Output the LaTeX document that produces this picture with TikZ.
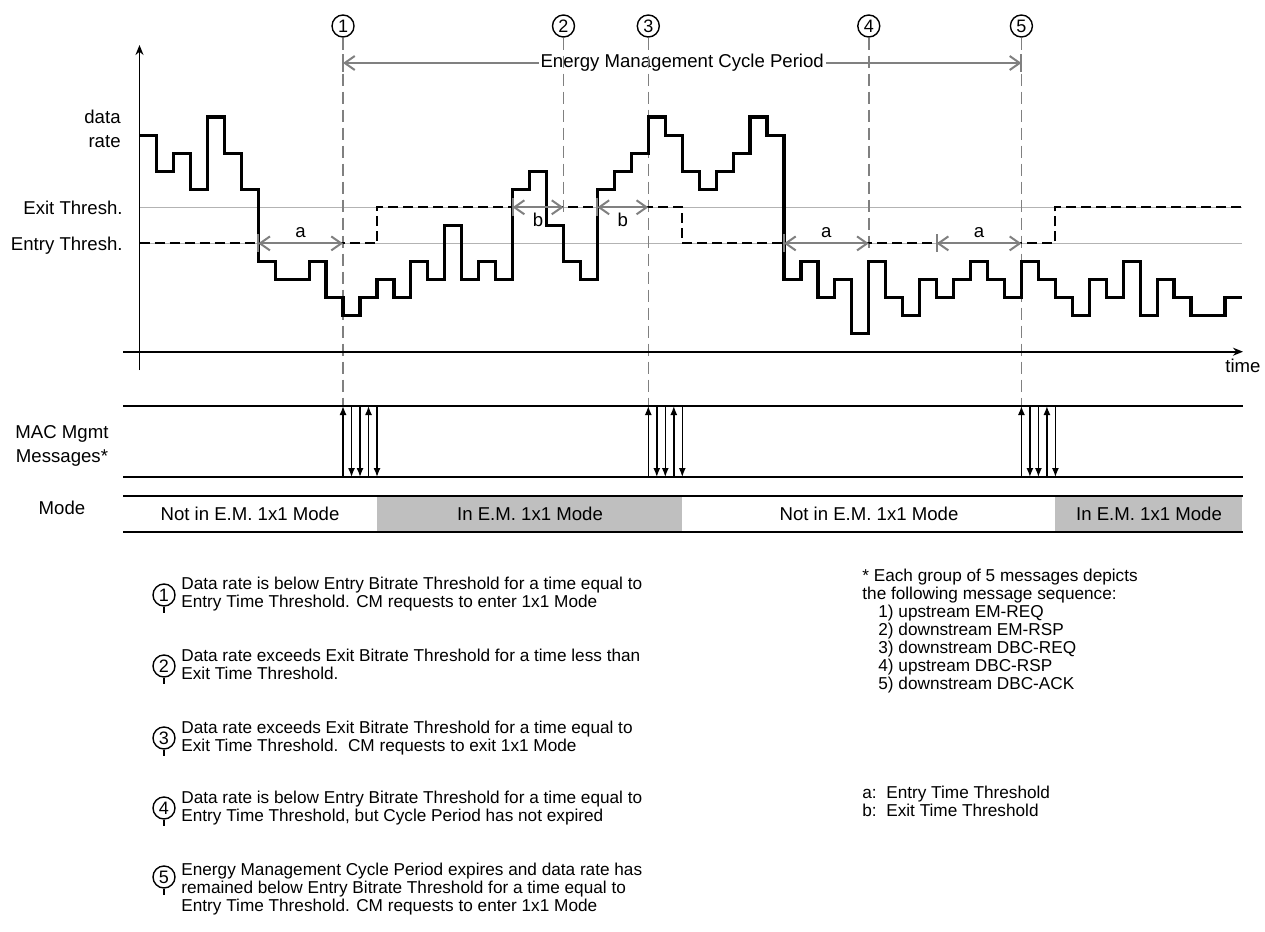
\documentclass[tikz,border=0pt]{standalone}
\usepackage{fontspec}
\setmainfont{Liberation Sans}
\usetikzlibrary{arrows.meta, positioning, calc}
\definecolor{emGray}{HTML}{808080}
\definecolor{thrGray}{HTML}{B3B3B3}
\definecolor{modeGray}{HTML}{BFBFBF}
\newcommand{\tj}[1]{139.5+16.96*(#1)}
\newcommand{\lv}[1]{351.7-18.05*(#1)}
\tikzset{
  dimArrow/.style={<->, >={Straight Barb[length=5pt,width=7pt]}, emGray, line width=1pt},
  dimTick/.style={emGray, line width=1pt},
  guideD/.style={emGray, line width=0.75pt, dash pattern=on 6pt off 3pt},
  thrLine/.style={thrGray, line width=0.75pt},
  thrDash/.style={black, line width=1pt, dash pattern=on 5pt off 2.5pt},
  waveL/.style={black, line width=1.6pt},
  axisL/.style={black, line width=0.9pt},
  bandL/.style={black, line width=1pt},
  msgA/.style={-{Latex[length=4.5pt,width=3.5pt]}, line width=0.7pt},
  numC/.style={circle, draw, line width=0.7pt, minimum size=11pt, inner sep=0pt,
               font=\fontsize{9}{10}\selectfont},
  lbl/.style={inner sep=0pt, font=\fontsize{9.3}{12}\selectfont},
  lgd/.style={inner sep=0pt, align=left, anchor=base west, font=\fontsize{8.6}{9}\selectfont},
}

\begin{document}
\begin{tikzpicture}[x=0.5pt, y=-0.5pt, font=\fontsize{9.3}{12}\selectfont]
    \useasboundingbox (0,0) rectangle (1265,932);
    % mode band and thresholds
    \fill[modeGray] ({\tj{14}},496) rectangle ({\tj{32}},532);
    \fill[modeGray] ({\tj{54}},496) rectangle (1242,532);
    \draw[thrLine] ({\tj{0}},{\lv{8}}) -- (1242,{\lv{8}});
    \draw[thrLine] ({\tj{0}},{\lv{6}}) -- (1242,{\lv{6}});

    \coordinate (ems) at ({\tj{12}},63);
    \coordinate (eme) at ({\tj{52}},63);
    \draw[dimTick] ([yshift=4.5pt]ems) -- ([yshift=-4.5pt]ems);
    \draw[dimTick] ([yshift=4.5pt]eme) -- ([yshift=-4.5pt]eme);
    \draw[dimArrow] (ems) -- node[fill=white, inner sep=1pt, text=black] (emLbl)
      {Energy Management Cycle Period} (eme);

    \foreach \n/\j/\yend in {1/12/406, 2/25/217, 3/30/406, 4/43/253, 5/52/406} {
      \node[numC] (n\n) at ({\tj{\j}},26) {\n};
      \coordinate (g\n) at ({\tj{\j}},\yend);
      \draw[guideD] (n\n) -- (g\n);
    }

    \draw[thrDash] ({\tj{0}},{\lv{6}}) -| ({\tj{14}},{\lv{8}}) -| ({\tj{32}},{\lv{6}})
      -| ({\tj{54}},{\lv{8}}) -- (1242,{\lv{8}});

    \coordinate (yBot) at (139.5,370);
    \coordinate (yTop) at (139.5,45);
    \coordinate (xLeft) at (123,{\lv{0}});
    \coordinate (xRight) at (1243,{\lv{0}});
    \draw[axisL, -{Stealth[length=5pt,width=4pt]}] (yBot) -- (yTop);
    \draw[axisL, -{Stealth[length=5pt,width=4pt]}] (xLeft) -- (xRight);

    % data rate
    \draw[waveL] ({\tj{0}},{\lv{12}})
      \foreach \k [count=\j from 0] in {12,10,11,9,13,11,9,5,4,4,5,3,2,3,4,3,5,4,7,4,5,4,
        9,10,7,5,4,9,10,11,13,12,10,9,10,11,13,12,4,5,3,4,1,5,3,2,4,3,4,5,4,3,5,4,3,2,
        4,3,5,2,4,3,2,2,3}
      { -- ({\tj{\j}},{\lv{\k}}) -- ({\tj{\j+1}},{\lv{\k}}) };

    \foreach \ja/\jb/\k/\side/\txt [count=\i] in {7/12/6/above/a, 22/25/8/below/b,
        27/30/8/below/b, 38/43/6/above/a, 47/52/6/above/a} {
      \coordinate (ds\i) at ({\tj{\ja}},{\lv{\k}});
      \coordinate (de\i) at ({\tj{\jb}},{\lv{\k}});
      \draw[dimTick] ([yshift=4.5pt]ds\i) -- ([yshift=-4.5pt]ds\i);
      \draw[dimArrow] (ds\i) -- node[\side=2.5pt, inner sep=0pt, text=black] (dl\i) {\txt} (de\i);
    }

    % MAC messages and mode
    \draw[bandL] (123,406) -- (1243,406);
    \draw[bandL] (123,477) -- (1243,477);
    \draw[bandL] (123,496) -- (1243,496);
    \draw[bandL] (123,532) -- (1243,532);
    \foreach \g in {12,30,52}
      \foreach \o/\ya/\yb in {0/477/406, 1/406/477, 2/406/477, 3/477/406, 4/406/477} {
        \coordinate (ma\g\o) at ({\tj{\g}+8.5*\o},\ya);
        \coordinate (mb\g\o) at ({\tj{\g}+8.5*\o},\yb);
        \draw[msgA] (ma\g\o) -- (mb\g\o);
      }

    \node[lbl, anchor=base east, align=right] (lbRate) at (121,147) {data\\rate};
    \node[lbl, anchor=base east] (lbExit) at (123,214) {Exit Thresh.};
    \node[lbl, anchor=base east] (lbEntry) at (123,250) {Entry Thresh.};
    \node[lbl, anchor=base] (lbTime) at (1243,372) {time};
    \node[lbl, anchor=base, align=center] (lbMac) at (62,462) {MAC Mgmt\\Messages*};
    \node[lbl, anchor=base] (lbMode) at (62,514) {Mode};
    \node[lbl, anchor=base] (md1) at (250,520) {Not in E.M. 1x1 Mode};
    \node[lbl, anchor=base] (md2) at (530,520) {In E.M. 1x1 Mode};
    \node[lbl, anchor=base] (md3) at (869,520) {Not in E.M. 1x1 Mode};
    \node[lbl, anchor=base] (md4) at (1149,520) {In E.M. 1x1 Mode};

    % legend
    \foreach \n/\y in {1/595, 2/666, 3/738, 4/808, 5/877} {
      \node[numC] (l\n) at (164,\y) {\n};
      \draw[line width=0.7pt] (l\n.south) -- ++(0,6);
    }
    \node[lgd] (t1) at (181,607) {Data rate is below Entry Bitrate Threshold for a time equal to\\
      Entry Time Threshold. CM requests to enter 1x1 Mode};
    \node[lgd] (t2) at (181,679) {Data rate exceeds Exit Bitrate Threshold for a time less than\\
      Exit Time Threshold.};
    \node[lgd] (t3) at (181,751) {Data rate exceeds Exit Bitrate Threshold for a time equal to\\
      Exit Time Threshold.\ \ CM requests to exit 1x1 Mode};
    \node[lgd] (t4) at (181,821) {Data rate is below Entry Bitrate Threshold for a time equal to\\
      Entry Time Threshold, but Cycle Period has not expired};
    \node[lgd] (t5) at (181,911) {Energy Management Cycle Period expires and data rate has\\
      remained below Entry Bitrate Threshold for a time equal to\\
      Entry Time Threshold. CM requests to enter 1x1 Mode};
    \node[lgd] (seq) at (862,689) {* Each group of 5 messages depicts\\
      the following message sequence:\\
      \hspace*{8pt}1) upstream EM-REQ\\
      \hspace*{8pt}2) downstream EM-RSP\\
      \hspace*{8pt}3) downstream DBC-REQ\\
      \hspace*{8pt}4) upstream DBC-RSP\\
      \hspace*{8pt}5) downstream DBC-ACK};
    \node[lgd] (keys) at (862,816) {a:\ \ Entry Time Threshold\\
      b:\ \ Exit Time Threshold};
  \end{tikzpicture}
\end{document}
